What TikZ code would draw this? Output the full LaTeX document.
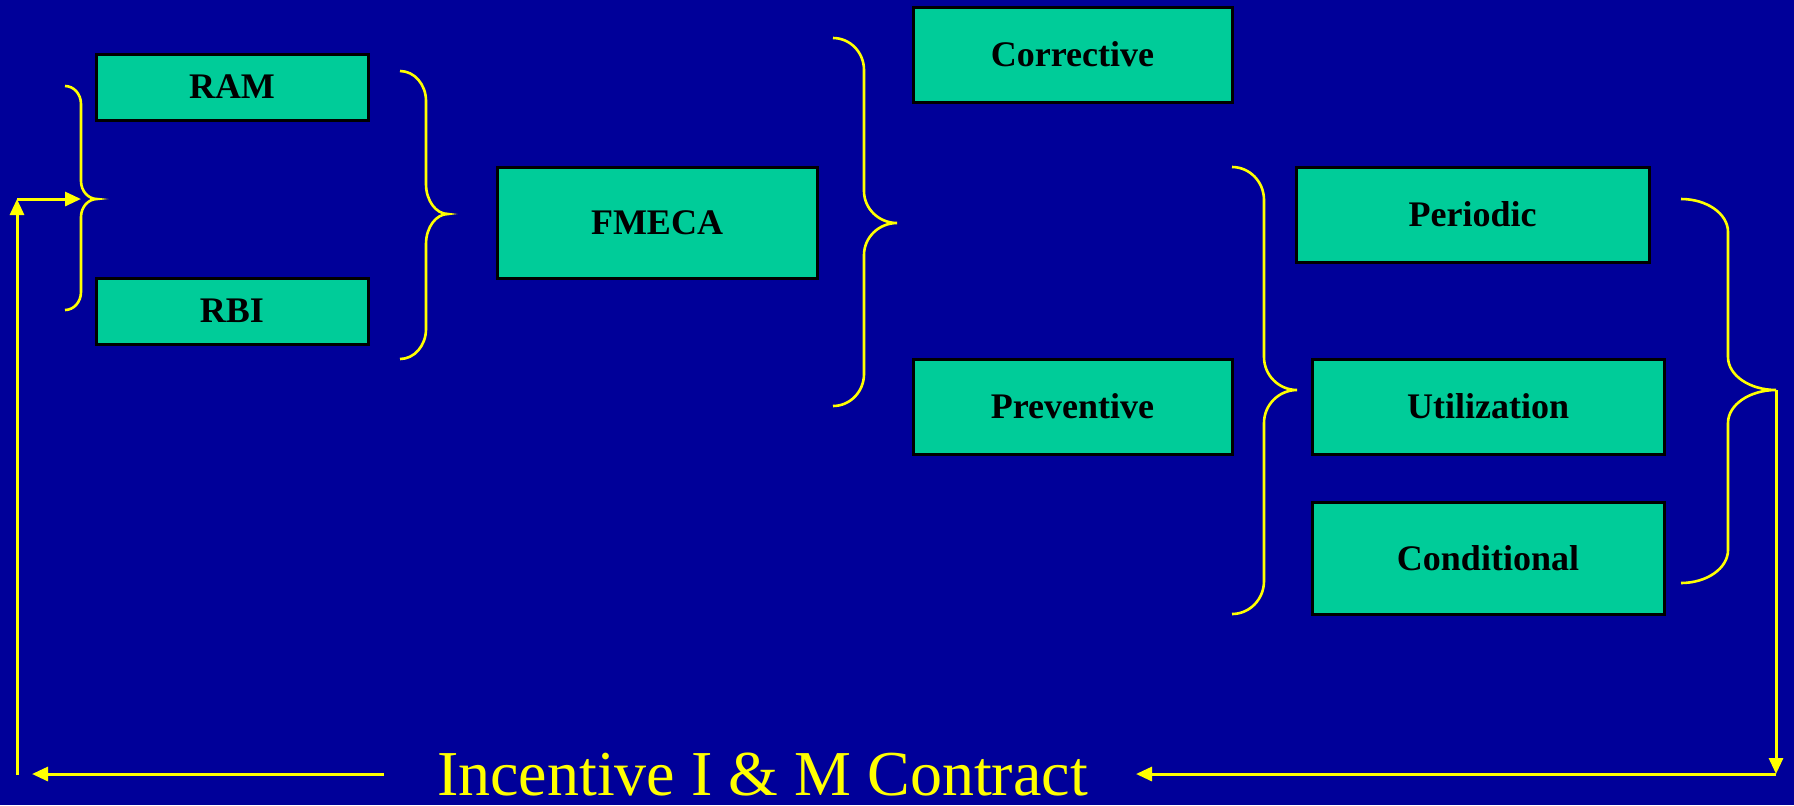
\documentclass[tikz,border=0pt]{standalone}
\usepackage{fontspec}
\setmainfont{Liberation Serif}
\usetikzlibrary{arrows.meta}
\definecolor{bgblue}{HTML}{000099}
\definecolor{boxgreen}{HTML}{00CC99}
\definecolor{ylw}{HTML}{FFFF00}
% #1 x0 (ends), #2 x1 (spine), #3 x2 (tip), #4 ytop, #5 ymid, #6 ybot, #7 curve height
\newcommand{\ybrace}[7]{%
 \draw[bracestyle] (#1,#4) .. controls ({#1+0.552*(#2-#1)},#4) and (#2,{#4+0.448*#7}) .. (#2,{#4+#7})
 -- (#2,{#5-#7}) .. controls (#2,{#5-0.448*#7}) and ({#3-0.552*(#3-#2)},#5) .. (#3,#5)
 .. controls ({#3-0.552*(#3-#2)},#5) and (#2,{#5+0.448*#7}) .. (#2,{#5+#7})
 -- (#2,{#6-#7}) .. controls (#2,{#6-0.448*#7}) and ({#1+0.552*(#2-#1)},#6) .. (#1,#6);}
\tikzset{
 box/.style={draw=black, line width=1.5pt, fill=boxgreen, inner sep=0pt,
   font=\bfseries\fontsize{18}{20}\selectfont, text=black},
 bracestyle/.style={draw=ylw, line width=1.3pt},
 arr/.style={draw=ylw, line width=1.5pt, -{Triangle[length=8pt,width=7pt]}},
}
\begin{document}
\begin{tikzpicture}[x=0.5pt, y=-0.5pt]
\useasboundingbox (0,0) rectangle (1794,805);
\fill[bgblue] (0,0) rectangle (1794,805);

% boxes
\node[box, minimum width=136pt, minimum height=33pt] (ram) at (232,87) {RAM};
\node[box, minimum width=136pt, minimum height=33pt] (rbi) at (232,311) {RBI};
\node[box, minimum width=160pt, minimum height=55.5pt] (fmeca) at (657,222.5) {FMECA};
\node[box, minimum width=159.5pt, minimum height=47.5pt] (corr) at (1072.5,54.5) {Corrective};
\node[box, minimum width=159.5pt, minimum height=47.5pt] (prev) at (1072.5,406.5) {Preventive};
\node[box, minimum width=176.5pt, minimum height=47.5pt] (peri) at (1472.5,214.5) {Periodic};
\node[box, minimum width=176pt, minimum height=47.5pt] (util) at (1488,406.5) {Utilization};
\node[box, minimum width=176pt, minimum height=56pt] (cond) at (1488,558) {Conditional};

% braces
\ybrace{65}{81}{97}{86}{199}{310}{18}
\ybrace{400}{426}{448}{71}{214}{359}{30}
\ybrace{833}{864}{897}{38}{223}{406}{32}
\ybrace{1232}{1264}{1297}{167}{390}{614}{33}
\ybrace{1681}{1728}{1776}{199}{390}{583}{33}

% bottom label
\node[font=\fontsize{32}{36}\selectfont, text=ylw, anchor=base, inner sep=0pt, text depth=0pt] (lbl) at (762.5,795) {Incentive I \& M Contract};

% connector coordinates
\coordinate (b5tip) at (1776,390);
\coordinate (br) at (1776,774);
\coordinate (rend) at (1136,774);
\coordinate (lstart) at (384,774);
\coordinate (lend) at (32,774);
\coordinate (vbot) at (17,775);
\coordinate (vtop) at (17,199);
\coordinate (b1spine) at (81,199);

\draw[arr] (b5tip) -- (br);
\draw[arr] (br) -- (rend);
\draw[arr] (lstart) -- (lend);
\draw[arr] (vbot) -- (vtop);
\draw[arr] (vtop) -- (b1spine);
\end{tikzpicture}
\end{document}
